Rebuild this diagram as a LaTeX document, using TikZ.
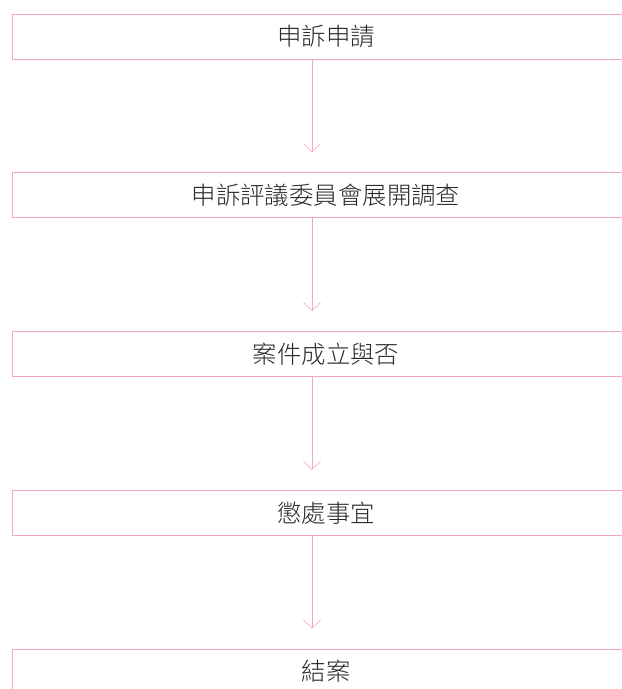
\documentclass[tikz,border=0pt]{standalone}
\usepackage{fontspec}
\newfontfamily\cjk{Noto Sans CJK TC Light}
\usetikzlibrary{arrows.meta}
\definecolor{linepink}{RGB}{243,166,194}
\definecolor{textgray}{RGB}{40,40,40}
\tikzstyle{stage}=[draw=linepink, line width=0.9bp, minimum width=628bp, minimum height=45bp, inner sep=0pt, font=\cjk\fontsize{24.5}{28}\selectfont, text=textgray]
\tikzstyle{flow}=[draw=linepink, line width=0.6bp, -{Straight Barb[length=8bp,width=17bp]}]
\begin{document}
\begin{tikzpicture}[x=1bp, y=-1bp]
			\useasboundingbox (0,0) rectangle (622,689);
			\clip (0,0) rectangle (622,689);
			%The stages, top to bottom (frames run on past the right edge)
			\foreach \pos/\name/\txt in {{(326,36.5)/apply/申訴申請},
									{(326,195.25)/probe/申訴評議委員會展開調查},
									{(326,354)/valid/案件成立與否},
									{(326,512.75)/punish/懲處事宜},
									{(326,671.5)/close/結案}}
			\node[stage] (\name) at \pos {\txt};
			%Arrows stop short of the next frame
			\foreach \a/\b in {apply/probe, probe/valid, valid/punish, punish/close}
			\draw[flow] ([xshift=-14bp]\a.south) -- ([xshift=-14bp,yshift=20bp]\b.north);
		\end{tikzpicture}
\end{document}
